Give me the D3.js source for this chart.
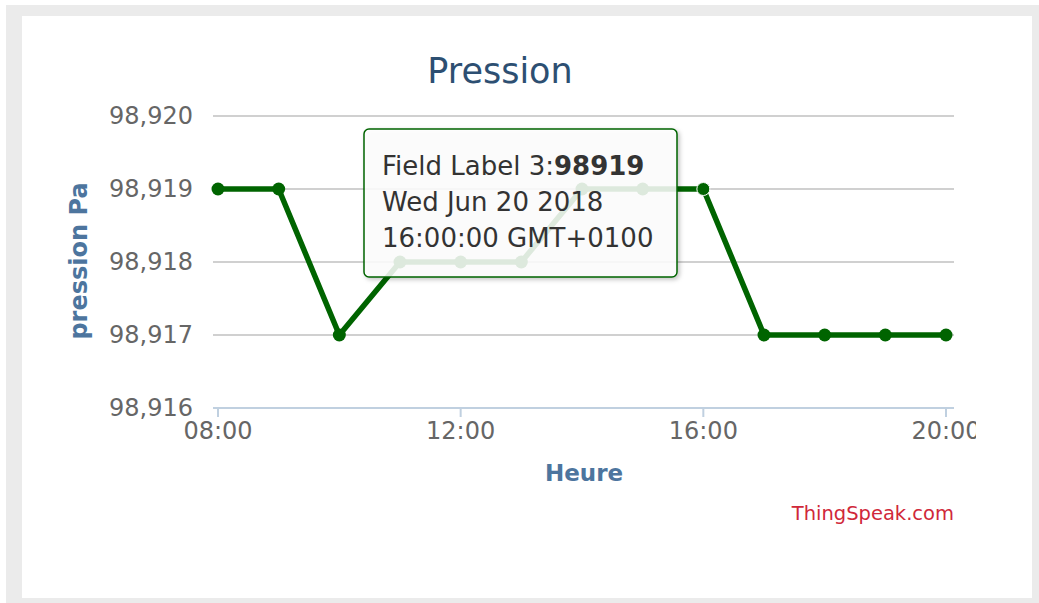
<!DOCTYPE html>
<html>
<head>
<meta charset="utf-8">
<script src="https://cdn.jsdelivr.net/npm/d3@7"></script>
<style>
  html, body { margin: 0; padding: 0; background: #fff; }
  svg { display: block; font-family: "DejaVu Sans", sans-serif; }
</style>
</head>
<body>
<svg id="chart" width="1039" height="603"></svg>
<script>
// ---- data ----
const hours = ["08:00","09:00","10:00","11:00","12:00","13:00","14:00","15:00","16:00","17:00","18:00","19:00","20:00"];
const pressure = [98919, 98919, 98917, 98918, 98918, 98918, 98919, 98919, 98919, 98917, 98917, 98917, 98917];
const yTicks = [98916, 98917, 98918, 98919, 98920];
const xTickLabels = ["08:00", "12:00", "16:00", "20:00"];
const chartTitle = "Pression";
const yTitle = "pression Pa";
const xTitle = "Heure";
const credits = "ThingSpeak.com";
const tooltipIndex = 8;
const tooltipLines = ["Field Label 3:", "Wed Jun 20 2018", "16:00:00 GMT+0100"];

const parseT = d3.utcParse("%Y-%m-%d %H:%M");
const data = hours.map((h, i) => ({ t: parseT("2018-06-20 " + h), v: pressure[i] }));

const svg = d3.select("#chart");

// background frame
svg.append("rect").attr("x", 6).attr("y", 5).attr("width", 1033).attr("height", 598).attr("fill", "#ebebeb");
svg.append("rect").attr("x", 22).attr("y", 16).attr("width", 1010).attr("height", 582).attr("fill", "#ffffff");

const plotLeft = 213, plotRight = 954;
const x = d3.scaleUtc()
  .domain([parseT("2018-06-20 08:00"), parseT("2018-06-20 20:00")])
  .range([218, 946]);
const y = d3.scaleLinear().domain([98916, 98920]).range([408, 116]);

// clip for axis labels (last label is cut off in the original)
svg.append("clipPath").attr("id", "lblclip")
  .append("rect").attr("x", 22).attr("y", 16).attr("width", 954).attr("height", 582);

// title
svg.append("text").attr("x", 500).attr("y", 83)
  .attr("text-anchor", "middle").attr("fill", "#2d4f72")
  .attr("font-size", 35).text(chartTitle);

// gridlines
svg.append("g").selectAll("line").data(yTicks).join("line")
  .attr("x1", plotLeft).attr("x2", plotRight)
  .attr("y1", d => y(d)).attr("y2", d => y(d))
  .attr("stroke", "#c0c0c0").attr("stroke-width", 1.5);

// y labels
const yFmt = d3.format(",");
svg.append("g").selectAll("text").data(yTicks).join("text")
  .attr("x", 193).attr("y", d => y(d)).attr("dy", "0.35em")
  .attr("text-anchor", "end").attr("fill", "#666666")
  .attr("font-size", 24).text(d => yFmt(d));

// x axis line + ticks
svg.append("line").attr("x1", plotLeft).attr("x2", plotRight)
  .attr("y1", 408).attr("y2", 408).attr("stroke", "#c0d0e0").attr("stroke-width", 2);
const xTicks = xTickLabels.map(s => parseT("2018-06-20 " + s));
svg.append("g").selectAll("line").data(xTicks).join("line")
  .attr("x1", d => x(d)).attr("x2", d => x(d))
  .attr("y1", 408).attr("y2", 417)
  .attr("stroke", "#c0d0e0").attr("stroke-width", 2);
const xFmt = d3.utcFormat("%H:%M");
svg.append("g").attr("clip-path", "url(#lblclip)").selectAll("text").data(xTicks).join("text")
  .attr("x", d => x(d)).attr("y", 439)
  .attr("text-anchor", "middle").attr("fill", "#666666")
  .attr("font-size", 24).text(d => xFmt(d));

// axis titles
svg.append("text").attr("transform", "translate(87,261) rotate(-90)")
  .attr("text-anchor", "middle").attr("fill", "#4d759e")
  .attr("font-size", 24).attr("font-weight", "bold").text(yTitle);
svg.append("text").attr("x", 584).attr("y", 481)
  .attr("text-anchor", "middle").attr("fill", "#4d759e")
  .attr("font-size", 23).attr("font-weight", "bold").text(xTitle);

// credits
svg.append("text").attr("x", 954).attr("y", 520)
  .attr("text-anchor", "end").attr("fill", "#d0283a")
  .attr("font-size", 19.5).text(credits);

// series line
const line = d3.line().x(d => x(d.t)).y(d => y(d.v));
svg.append("path").datum(data).attr("d", line)
  .attr("fill", "none").attr("stroke", "#006400").attr("stroke-width", 5.5)
  .attr("stroke-linejoin", "round");
svg.append("g").selectAll("circle").data(data).join("circle")
  .attr("cx", d => x(d.t)).attr("cy", d => y(d.v)).attr("r", 6.5)
  .attr("fill", "#006400");

// tooltip
const defs = svg.append("defs");
const f = defs.append("filter").attr("id", "shadow").attr("x", "-10%").attr("y", "-10%").attr("width", "120%").attr("height", "130%");
f.append("feDropShadow").attr("dx", 2).attr("dy", 2).attr("stdDeviation", 2).attr("flood-color", "#000").attr("flood-opacity", 0.25);

const tt = svg.append("g");
tt.append("rect").attr("x", 364).attr("y", 129).attr("width", 313).attr("height", 148)
  .attr("rx", 5).attr("fill", "rgba(255,255,255,0.85)")
  .attr("stroke", "#006400").attr("stroke-width", 1.5).attr("filter", "url(#shadow)");
const tx = tt.append("text").attr("x", 382).attr("fill", "#333333").attr("font-size", 26);
const l1 = tx.append("tspan").attr("x", 382).attr("y", 175);
l1.append("tspan").text(tooltipLines[0]);
l1.append("tspan").attr("font-weight", "bold").text(pressure[tooltipIndex]);
tx.append("tspan").attr("x", 382).attr("y", 211).text(tooltipLines[1]);
tx.append("tspan").attr("x", 382).attr("y", 247).text(tooltipLines[2]);

// hovered marker
const hp = data[tooltipIndex];
svg.append("circle").attr("cx", x(hp.t)).attr("cy", y(hp.v)).attr("r", 6.5)
  .attr("fill", "#006400").attr("stroke", "#ffffff").attr("stroke-width", 1);
</script>
</body>
</html>
